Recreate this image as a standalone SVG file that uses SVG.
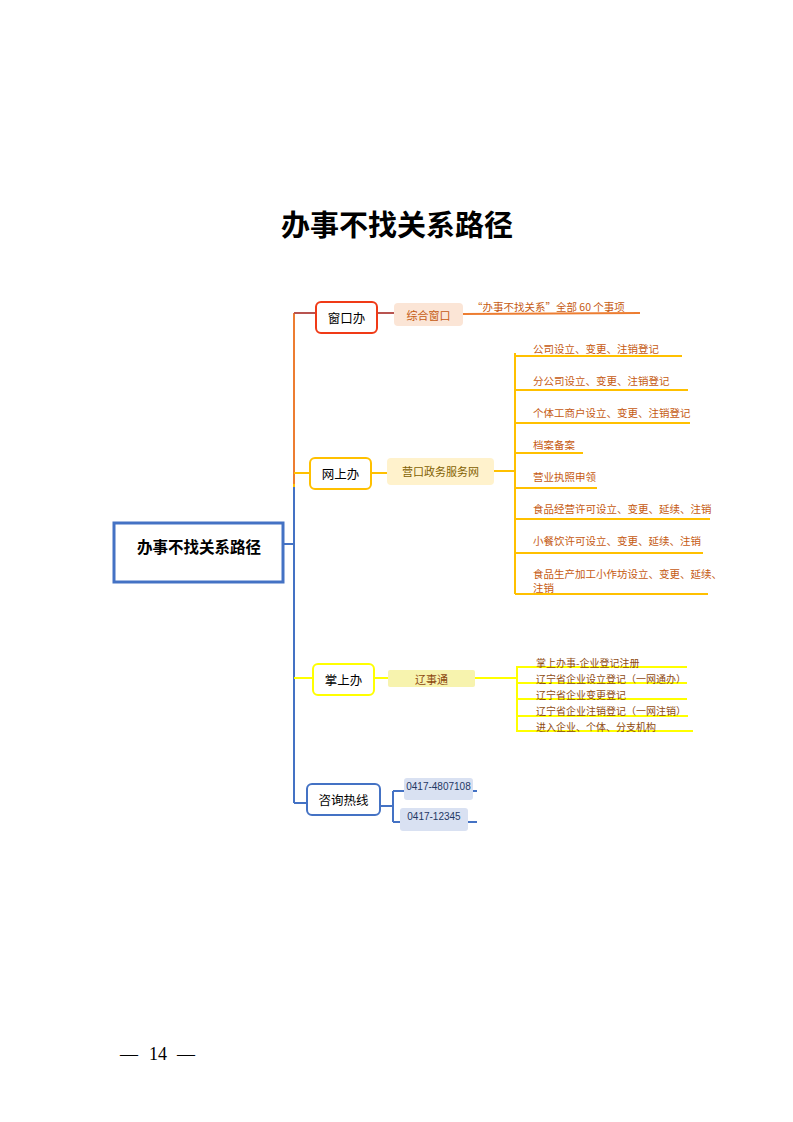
<svg xmlns="http://www.w3.org/2000/svg" width="793" height="1122" viewBox="0 0 793 1122">
<style>
text{font-family:"Noto Sans CJK SC","Liberation Sans",sans-serif;}
.c{text-anchor:middle;dominant-baseline:central;}
.l{dominant-baseline:central;}
.node{fill:#fff;stroke-width:2;}
.it1{font-size:10.5px;fill:#C55A11;}
.it2{font-size:10px;fill:#8E4A10;}
.gl{stroke:#FFC000;stroke-width:2;fill:none;}
.yl{stroke:#FFFF00;stroke-width:2;fill:none;}
.bl{stroke:#4472C4;stroke-width:2;fill:none;}
.pg{font-family:"Liberation Serif",serif;font-size:18px;fill:#000;text-anchor:middle;}
</style>
<rect width="793" height="1122" fill="#fff"/>
<text x="397" y="236" text-anchor="middle" font-size="29" font-weight="700" fill="#000">办事不找关系路径</text>

<g id="connectors" fill="none">
  <line x1="284" y1="544" x2="294" y2="544" class="bl"/>
  <line x1="294" y1="313" x2="294" y2="485" stroke="#ED7D31" stroke-width="2"/>
  <line x1="294" y1="484" x2="294" y2="487" stroke="#FFC000" stroke-width="2"/>
  <line x1="294" y1="487" x2="294" y2="803" class="bl"/>
  <line x1="294" y1="313" x2="316" y2="313" stroke="#B85450" stroke-width="2"/>
  <line x1="377" y1="313" x2="394" y2="313" stroke="#B85450" stroke-width="2"/>
  <line x1="463" y1="314" x2="640" y2="313" stroke="#ED7D31" stroke-width="2"/>
  <line x1="294" y1="473" x2="310" y2="473" class="gl"/>
  <line x1="371" y1="473" x2="387" y2="473" class="gl"/>
  <line x1="494" y1="471" x2="515" y2="471" class="gl"/>
  <line x1="515" y1="353" x2="515" y2="594" class="gl"/>
  <line x1="515" y1="356" x2="682" y2="356" class="gl"/>
  <line x1="515" y1="390" x2="688" y2="390" class="gl"/>
  <line x1="515" y1="423" x2="690" y2="423" class="gl"/>
  <line x1="515" y1="453" x2="583" y2="453" class="gl"/>
  <line x1="515" y1="488" x2="597" y2="488" class="gl"/>
  <line x1="515" y1="519" x2="710" y2="519" class="gl"/>
  <line x1="515" y1="553" x2="703" y2="553" class="gl"/>
  <line x1="515" y1="594" x2="708" y2="594" class="gl"/>
  <line x1="294" y1="678" x2="313" y2="678" class="yl"/>
  <line x1="374" y1="678" x2="388" y2="678" class="yl"/>
  <line x1="475" y1="678" x2="518" y2="678" class="yl"/>
  <line x1="517" y1="666" x2="517" y2="732" class="yl"/>
  <line x1="517" y1="667" x2="687" y2="667" class="yl"/>
  <line x1="517" y1="683" x2="687" y2="683" class="yl"/>
  <line x1="517" y1="699" x2="687" y2="699" class="yl"/>
  <line x1="517" y1="716" x2="688" y2="716" class="yl"/>
  <line x1="517" y1="731" x2="693" y2="731" class="yl"/>
  <line x1="294" y1="803" x2="307" y2="803" class="bl"/>
  <line x1="380" y1="806" x2="393" y2="806" class="bl"/>
  <line x1="393" y1="791" x2="393" y2="822" class="bl"/>
  <line x1="393" y1="791" x2="477" y2="791" class="bl"/>
  <line x1="393" y1="822" x2="477" y2="822" class="bl"/>
</g>

<g id="root">
  <rect x="114" y="523" width="169" height="59" fill="#fff" stroke="#4472C4" stroke-width="3"/>
  <text x="199" y="546" class="c" font-size="15.5" font-weight="700" fill="#000">办事不找关系路径</text>
</g>

<g id="n-window">
  <rect x="316" y="302" width="61" height="31" rx="5" class="node" stroke="#F03A17"/>
  <text x="346.5" y="317.5" class="c" font-size="12.5" fill="#000">窗口办</text>
</g>
<g id="n-zonghe">
  <rect x="394" y="303" width="69" height="23" rx="4" fill="#FBE5D6"/>
  <text x="428.5" y="314.5" class="c" font-size="11" fill="#C55A11">综合窗口</text>
</g>
<g id="n-60">
  <text x="472" y="306" class="l" font-size="10.5" fill="#C55A11">“办事不找关系”全部 60 个事项</text>
</g>

<g id="n-online">
  <rect x="310" y="458" width="61" height="31" rx="5" class="node" stroke="#FFC000"/>
  <text x="340.5" y="473.5" class="c" font-size="12.5" fill="#000">网上办</text>
</g>
<g id="n-yingkou">
  <rect x="387" y="458" width="107" height="27" rx="4" fill="#FFF2CC"/>
  <text x="440.5" y="471" class="c" font-size="11" fill="#7F6000">营口政务服务网</text>
</g>
<g id="n-o1"><text x="533" y="348" class="l it1">公司设立、变更、注销登记</text></g>
<g id="n-o2"><text x="533" y="380" class="l it1">分公司设立、变更、注销登记</text></g>
<g id="n-o3"><text x="533" y="412" class="l it1">个体工商户设立、变更、注销登记</text></g>
<g id="n-o4"><text x="533" y="444" class="l it1">档案备案</text></g>
<g id="n-o5"><text x="533" y="476" class="l it1">营业执照申领</text></g>
<g id="n-o6"><text x="533" y="508" class="l it1">食品经营许可设立、变更、延续、注销</text></g>
<g id="n-o7"><text x="533" y="540" class="l it1">小餐饮许可设立、变更、延续、注销</text></g>
<g id="n-o8"><text x="533" y="573" class="l it1">食品生产加工小作坊设立、变更、延续、</text><text x="533" y="587" class="l it1">注销</text></g>

<g id="n-palm">
  <rect x="313" y="664" width="61" height="31" rx="5" class="node" stroke="#FFFF00"/>
  <text x="343.5" y="679.5" class="c" font-size="12.5" fill="#000">掌上办</text>
</g>
<g id="n-lst">
  <rect x="388" y="670" width="87" height="17" rx="2" fill="#F7F3AE"/>
  <text x="431.5" y="678.5" class="c" font-size="11" fill="#8E4A10">辽事通</text>
</g>
<g id="n-p1"><text x="536" y="662" class="l it2">掌上办事-企业登记注册</text></g>
<g id="n-p2"><text x="536" y="678" class="l it2">辽宁省企业设立登记（一网通办）</text></g>
<g id="n-p3"><text x="536" y="694" class="l it2">辽宁省企业变更登记</text></g>
<g id="n-p4"><text x="536" y="710" class="l it2">辽宁省企业注销登记（一网注销）</text></g>
<g id="n-p5"><text x="536" y="726" class="l it2">进入企业、个体、分支机构</text></g>

<g id="n-hotline">
  <rect x="307" y="784" width="73" height="31" rx="5" class="node" stroke="#4472C4"/>
  <text x="343.5" y="799.5" class="c" font-size="12.5" fill="#000">咨询热线</text>
</g>
<g id="n-tel1">
  <rect x="404" y="778" width="69" height="22" rx="3" fill="#D9E1F2"/>
  <text x="438.5" y="786" class="c" font-size="10" fill="#1F3864" style="font-family:'Liberation Sans',sans-serif">0417-4807108</text>
</g>
<g id="n-tel2">
  <rect x="400" y="808" width="68" height="23" rx="3" fill="#D9E1F2"/>
  <text x="434" y="816" class="c" font-size="10" fill="#1F3864" style="font-family:'Liberation Sans',sans-serif">0417-12345</text>
</g>

<text x="129" y="1060" class="pg">—</text>
<text x="158" y="1060" class="pg">14</text>
<text x="186" y="1060" class="pg">—</text>
</svg>
